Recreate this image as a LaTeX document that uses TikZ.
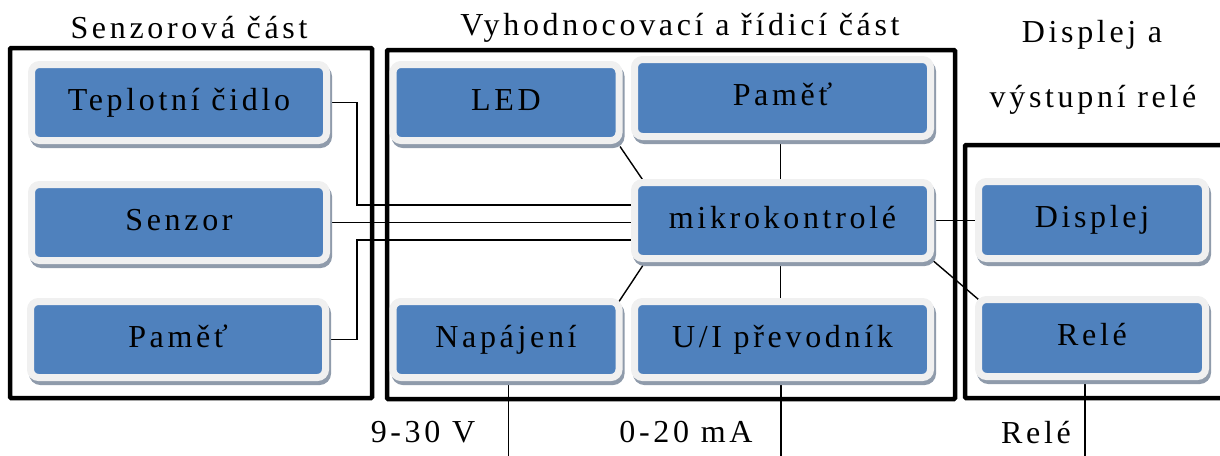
\documentclass[tikz,border=0pt]{standalone}
\usepackage{fontspec}
\setmainfont{Liberation Serif}[LetterSpace=11.5]
\usetikzlibrary{shadows,calc,backgrounds}
\definecolor{boxblue}{HTML}{4F81BD}
\definecolor{rimc}{HTML}{F0F0F0}
\definecolor{shadc}{HTML}{8F9BAB}
\begin{document}
\begin{tikzpicture}[x=1pt,y=-1pt,
 blk/.style={fill=boxblue, draw=rimc, line width=7pt, rounded corners=8pt, outer sep=0pt, inner sep=0pt,
   font=\fontsize{32}{38}\selectfont, text=black, text height=22pt, text depth=7pt,
   drop shadow={shadow xshift=2pt, shadow yshift=-4pt, fill=shadc, draw=shadc, line width=7pt, opacity=1}},
 frame/.style={line width=4.5pt, rounded corners=1pt},
 conn/.style={line width=1.4pt},
 lbl/.style={font=\fontsize{32}{38}\selectfont, anchor=base, inner sep=0pt}]
\useasboundingbox (0,0) rectangle (1220,455);
\clip (0,0) rectangle (1220,455);

% blocks
\node[blk, minimum width=295pt, minimum height=76pt] (tep) at (179,102.5) {Teplotní čidlo};
\node[blk, minimum width=295pt, minimum height=76pt] (sen) at (179,222.5) {Senzor};
\node[blk, minimum width=295pt, minimum height=76pt] (pl) at (178,339.5) {Paměť};
\node[blk, minimum width=226pt, minimum height=76pt] (led) at (506,102.5) {LED};
\node[blk, minimum width=296pt, minimum height=77pt] (pm) at (782.5,98) {Paměť};
\node[blk, minimum width=296pt, minimum height=76pt] (mik) at (782.5,220.5) {mikrokontrolé};
\node[blk, minimum width=226pt, minimum height=76pt] (nap) at (506,339.5) {Napájení};
\node[blk, minimum width=296pt, minimum height=76pt] (ui) at (782.5,339.5) {U/I převodník};
\node[blk, minimum width=227pt, minimum height=77pt] (dis) at (1092,220) {Displej};
\node[blk, minimum width=227pt, minimum height=77pt] (rel) at (1092,338) {Relé};

% titles and labels
\node[lbl] (t1) at (189,38) {Senzorová část};
\node[lbl] (t2) at (680,35) {Vyhodnocovací a řídicí část};
\node[lbl] (t3) at (1092,42) {Displej a};
\node[lbl] (t4) at (1093,107) {výstupní relé};
\node[lbl] (v1) at (423,442) {9-30 V};
\node[lbl] (v2) at (686,442) {0-20 mA};
\node[lbl] (v3) at (1036,443) {Relé};

\coordinate (napout) at (508.5,460);
\coordinate (uiout) at (781,460);
\coordinate (relout) at (1085,460);

\begin{pgfonlayer}{background}
% group frames
\draw[frame] (10,48) rectangle (372,398);
\draw[frame] (387,50) rectangle (955,399);
\draw[frame] (965,145) rectangle (1240,398);
% connectors
\draw[conn] (tep.east) -| (357,205) -- ($(mik.west)+(0,-15.5)$);
\draw[conn] (sen.east) -- (sen.east -| mik.west);
\draw[conn] (pl.east) -| (357,240) -- ($(mik.west)+(0,19.5)$);
\draw[conn] ($(led.south east)+(1,6)$) -- ($(mik.north west)+(10,0)$);
\draw[conn] ($(pm.south)+(-2,0)$) -- ($(mik.north)+(-2,0)$);
\draw[conn] (nap.north east) -- ($(mik.south west)+(11,3)$);
\draw[conn] ($(ui.north)+(-2,0)$) -- ($(mik.south)+(-2,0)$);
\draw[conn] (mik.east) -- (mik.east -| dis.west);
\draw[conn] (mik.south east) -- (rel.north west);
\draw[conn] ($(nap.south)+(2.5,0)$) -- (napout);
\draw[conn] ($(ui.south)+(-1.5,0)$) -- (uiout);
\draw[conn] ($(rel.south)+(-7,0)$) -- (relout);
\end{pgfonlayer}
\end{tikzpicture}
\end{document}
